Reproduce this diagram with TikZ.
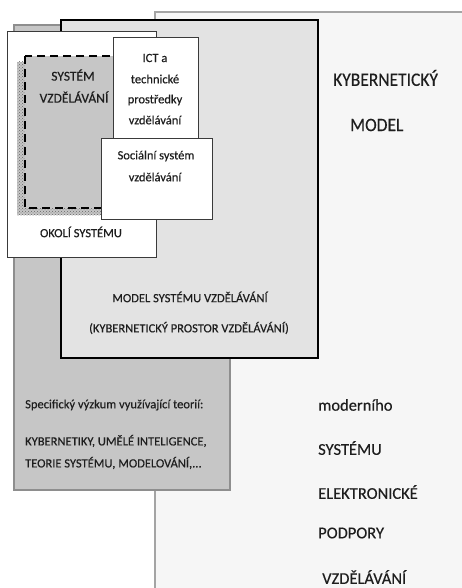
\documentclass[tikz,border=0pt]{standalone}
\usepackage{fontspec}
\setmainfont{Carlito}[FakeBold=0.35]
\usetikzlibrary{patterns}
\definecolor{paper}{HTML}{F6F6F6}
\definecolor{outerline}{HTML}{A4A4A4}
\definecolor{midgrey}{HTML}{C6C6C6}
\definecolor{midline}{HTML}{8E8E8E}
\definecolor{modelgrey}{HTML}{E3E3E3}
\definecolor{boxline}{HTML}{3A3A3A}
\definecolor{ink}{HTML}{1E1E1E}

\begin{document}
\begin{tikzpicture}[x=1pt, y=-1pt,
    box/.style={draw=boxline, line width=0.9pt, fill=white},
    lbl/.style={font=\fontsize{12.5}{14}\selectfont, text=ink, inner sep=0pt},
    biglbl/.style={font=\fontsize{16.5}{18}\selectfont, text=ink, inner sep=0pt, anchor=west}]
  \useasboundingbox (0,0) rectangle (462,588);
  \clip (0,0) rectangle (462,588);
  % frames, back to front
  \draw[outerline, line width=2.5pt, fill=paper] (155,12) rectangle (490,600);
  \draw[midline, line width=2.5pt, fill=midgrey] (14,25) rectangle (230,490);
  \draw[black, line width=1.8pt, fill=modelgrey] (61,20) rectangle (318,358);
  \draw[box] (7,31) rectangle (156,257);
  % system of education (hatched shadow + dashed frame)
  \fill[gray!45] (17,62) rectangle (110,215);
  \fill[pattern=crosshatch dots, pattern color=black!60] (17,62) rectangle (110,215);
  \draw[black, line width=2.8pt, dash pattern=on 8pt off 5pt, fill=midgrey]
    (25,56) rectangle (130,208);
  \draw[box] (113,37) rectangle (198,140);
  \draw[box] (101,138) rectangle (212,219);
  % labels inside
  \node[lbl, font=\fontsize{13.5}{15}\selectfont] (sys1) at (73,75) {SYSTÉM};
  \node[lbl, font=\fontsize{13.5}{15}\selectfont] (sys2) at (74,97) {VZDĚLÁVÁNÍ};
  \foreach[count=\i] \word/\yy in {ICT a/58, technické/79, prostředky/100, vzdělávání/120}
    \node[lbl] (ict\i) at (155,\yy) {\word};
  \node[lbl] (soc1) at (156,156) {Sociální systém};
  \node[lbl] (soc2) at (155,177) {vzdělávání};
  \node[lbl] (okoli) at (81,232) {OKOLÍ SYSTÉMU};
  \node[lbl] (model1) at (190,297) {MODEL SYSTÉMU VZDĚLÁVÁNÍ};
  \node[lbl] (model2) at (189,328) {(KYBERNETICKÝ PROSTOR VZDĚLÁVÁNÍ)};
  % research
  \foreach[count=\i] \line/\yy in {Specifický výzkum využívající teorií:/405,
      {KYBERNETIKY, UMĚLÉ INTELIGENCE,}/441,
      {TEORIE SYSTÉMU, MODELOVÁNÍ,...}/463}
    \node[lbl, anchor=west] (res\i) at (25,\yy) {\line};
  % right column
  \node[biglbl, font=\fontsize{19}{20}\selectfont, xscale=0.92] (kyb) at (333,78) {KYBERNETICKÝ};
  \node[biglbl, font=\fontsize{19}{20}\selectfont, xscale=0.92] (kmodel) at (350,125) {MODEL};
  \foreach[count=\i] \word/\xx/\yy in {moderního/318/405, SYSTÉMU/318/448,
      ELEKTRONICKÉ/318/492, PODPORY/318/533, VZDĚLÁVÁNÍ/322/577}
    \node[biglbl] (mod\i) at (\xx,\yy) {\word};
\end{tikzpicture}
\end{document}
